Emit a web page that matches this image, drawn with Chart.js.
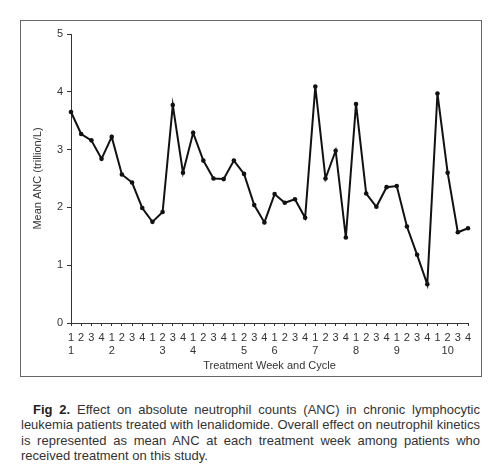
<!DOCTYPE html>
<html>
<head>
<meta charset="utf-8">
<script src="https://cdn.jsdelivr.net/npm/chart.js@4"></script>
<style>
  body { margin: 0; background: #fff; font-family: "Liberation Sans", Arial, sans-serif; }
  #marco {
    position: absolute; left: 20px; top: 20px; width: 460px; height: 355px;
    border: 1px solid #666;
  }
  #leyenda {
    position: absolute; left: 21px; top: 402px; width: 459px;
    font-size: 13px; line-height: 15.3px; color: #333;
  }
  #leyenda div { text-align: justify; text-align-last: justify; }
  #leyenda div.ultima { text-align-last: left; }
  #leyenda b { color: #222; }
</style>
</head>
<body>
<div id="marco"><canvas id="grafico"></canvas></div>
<div id="leyenda">
  <div style="text-indent: 12px;"><b>Fig 2.</b> Effect on absolute neutrophil counts (ANC) in chronic lymphocytic</div>
  <div>leukemia patients treated with lenalidomide. Overall effect on neutrophil kinetics</div>
  <div>is represented as mean ANC at each treatment week among patients who</div>
  <div class="ultima">received treatment on this study.</div>
</div>
<script>
// semana dentro de cada ciclo (10 ciclos x 4 semanas)
const semanas = [
  '1','2','3','4', '1','2','3','4', '1','2','3','4', '1','2','3','4', '1','2','3','4',
  '1','2','3','4', '1','2','3','4', '1','2','3','4', '1','2','3','4', '1','2','3','4'
];
// numero de ciclo, segunda fila de etiquetas
const ciclos = [
  '1','','','', '2','','','', '','3','','', '4','','','', '','5','','',
  '6','','','', '7','','','', '8','','','', '9','','','', '','10','',''
];
// ANC medio (trillion/L)
const ancMedio = [
  3.65, 3.27, 3.16, 2.84, 3.22, 2.57, 2.43, 1.99, 1.75, 1.92,
  3.77, 2.60, 3.29, 2.81, 2.50, 2.49, 2.81, 2.58, 2.04, 1.74,
  2.23, 2.08, 2.14, 1.82, 4.09, 2.50, 2.98, 1.48, 3.79, 2.24,
  2.01, 2.35, 2.37, 1.67, 1.18, 0.67, 3.97, 2.60, 1.57, 1.64
];
const ticksY = [0, 1, 2, 3, 4, 5];

(function () {
    const etiquetas = semanas.map((s, i) => [s, ciclos[i]]);
    const ctx = document.querySelector('#grafico').getContext('2d');

    Chart.defaults.font.family = '"Liberation Sans", Arial, sans-serif';
    Chart.defaults.color = '#333';

    new Chart(ctx, {
        type: 'line',
        data: {
            labels: etiquetas,
            datasets: [{
                label: 'Mean ANC',
                data: ancMedio,
                borderColor: '#111',
                backgroundColor: '#111',
                borderWidth: 2,
                pointRadius: 2.3,
                pointBorderWidth: 0,
                tension: 0
            }]
        },
        options: {
            responsive: true,
            maintainAspectRatio: false,
            animation: false,
            layout: { padding: { top: 13, right: 13, left: 0, bottom: 0 } },
            scales: {
                x: {
                    offset: false,
                    grid: { drawOnChartArea: false, color: '#333', tickLength: 3 },
                    border: { color: '#333', width: 1 },
                    ticks: {
                        autoSkip: false, maxRotation: 0, padding: 5,
                        font: { size: 11 }, color: '#333'
                    },
                    title: {
                        display: true, text: 'Treatment Week and Cycle',
                        font: { size: 11 }, color: '#333', padding: { top: 0, bottom: 3 }
                    },
                    afterFit: (escala) => { escala.height = 53; }
                },
                y: {
                    min: 0,
                    max: 5,
                    afterBuildTicks: (escala) => { escala.ticks = ticksY.map(v => ({ value: v })); },
                    grid: { drawOnChartArea: false, color: '#333', tickLength: 4 },
                    border: { color: '#333', width: 1 },
                    ticks: { padding: 4, font: { size: 11 }, color: '#333' },
                    title: {
                        display: true, text: 'Mean ANC (trillion/L)',
                        font: { size: 11 }, color: '#333', padding: { top: 10, bottom: 0 }
                    },
                    afterFit: (escala) => { escala.width = 50; }
                }
            },
            plugins: {
                legend: { display: false },
                tooltip: { enabled: false }
            }
        }
    });
})();
</script>
</body>
</html>
